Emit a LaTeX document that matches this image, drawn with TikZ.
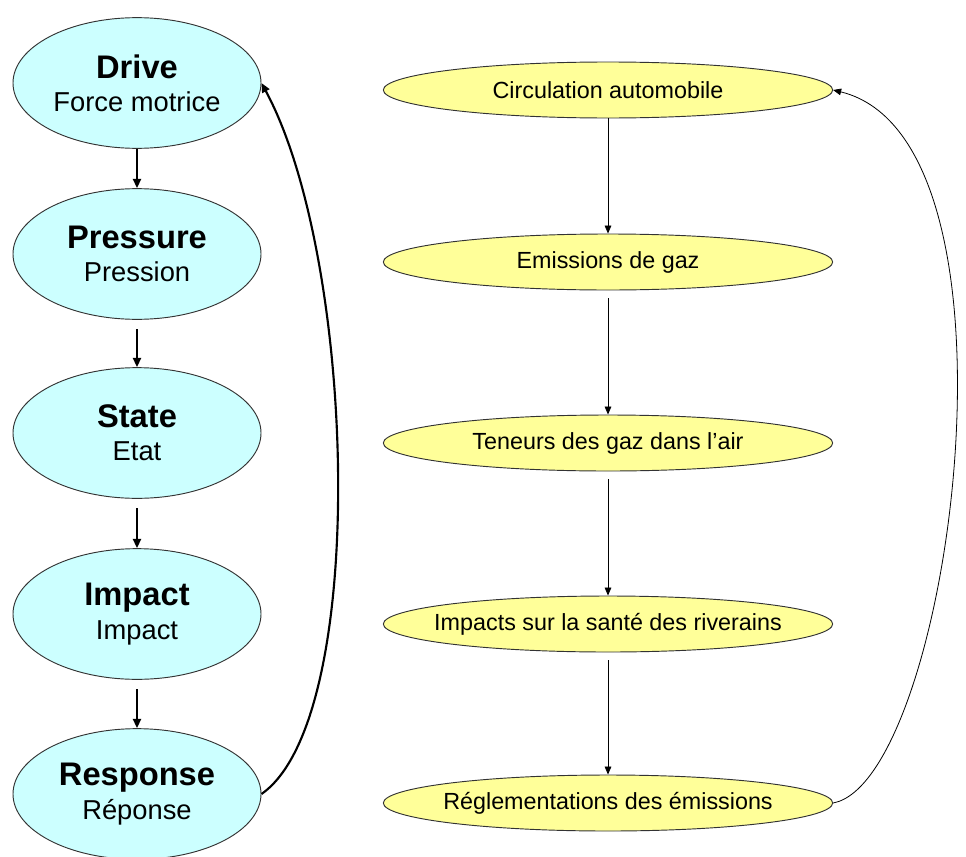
\documentclass[tikz,border=0pt]{standalone}
\usepackage{fontspec}
\setmainfont{Liberation Sans}
\usetikzlibrary{shapes.geometric,arrows.meta}
\definecolor{cyanfill}{HTML}{CCFFFF}
\definecolor{yelfill}{HTML}{FFFF99}
\definecolor{edge}{HTML}{333333}
\tikzset{
  lnode/.style={ellipse, draw=edge, line width=0.7pt, fill=cyanfill, minimum width=186pt, minimum height=98pt, inner sep=0pt, align=center, font=\fontsize{20.5pt}{25pt}\selectfont},
  rnode/.style={ellipse, draw=edge, line width=0.7pt, fill=yelfill, minimum width=337pt, minimum height=42pt, inner sep=0pt, font=\fontsize{17.5pt}{20pt}\selectfont},
  larrow/.style={line width=1.6pt, -{Triangle[length=7pt,width=6pt]}},
  rarrow/.style={line width=0.6pt, -{Triangle[length=6pt,width=5pt]}}
}
\newcommand{\hd}[1]{{\fontsize{24.5pt}{25pt}\selectfont\bfseries #1}}
\newcommand{\fixw}[1]{\makebox[0pt]{#1}}
\begin{document}
\begin{tikzpicture}[x=0.75pt,y=-0.75pt]
\useasboundingbox (0,0) rectangle (966,856);
% left column
\node[lnode] (drive) at (137,83) {\hd{Drive}\\Force motrice};
\node[lnode] (pres) at (137,254) {\hd{Pressure}\\Pression};
\node[lnode] (state) at (137,433) {\hd{State}\\Etat};
\node[lnode] (imp) at (137,614) {\hd{Impact}\\Impact};
\node[lnode] (resp) at (137,794) {\hd{Response}\\Réponse};
\draw[larrow] (drive.south) -- (pres.north);
\draw[larrow, shorten <=7pt] (pres.south) -- (state.north);
\draw[larrow, shorten <=7pt] (state.south) -- (imp.north);
\draw[larrow, shorten <=7pt] (imp.south) -- (resp.north);
\draw[larrow] (resp.east) .. controls +(108,-75) and +(95,176) .. (drive.east);
% right column
\node[rnode] (circ) at (608,90) {\fixw{Circulation automobile}};
\node[rnode] (emis) at (608,262) {\fixw{Emissions de gaz}};
\node[rnode] (ten) at (608,443) {\fixw{Teneurs des gaz dans l’air}};
\node[rnode] (san) at (608,624) {\fixw{Impacts sur la santé des riverains}};
\node[rnode] (regl) at (608,803) {\fixw{Réglementations des émissions}};
\draw[rarrow] (circ.south) -- (emis.north);
\draw[rarrow, shorten <=6pt] (emis.south) -- (ten.north);
\draw[rarrow, shorten <=6pt] (ten.south) -- (san.north);
\draw[rarrow, shorten <=6pt] (san.south) -- (regl.north);
\draw[rarrow] (regl.east) .. controls +(117,-22) and +(205,50) .. (circ.east);
\end{tikzpicture}
\end{document}
